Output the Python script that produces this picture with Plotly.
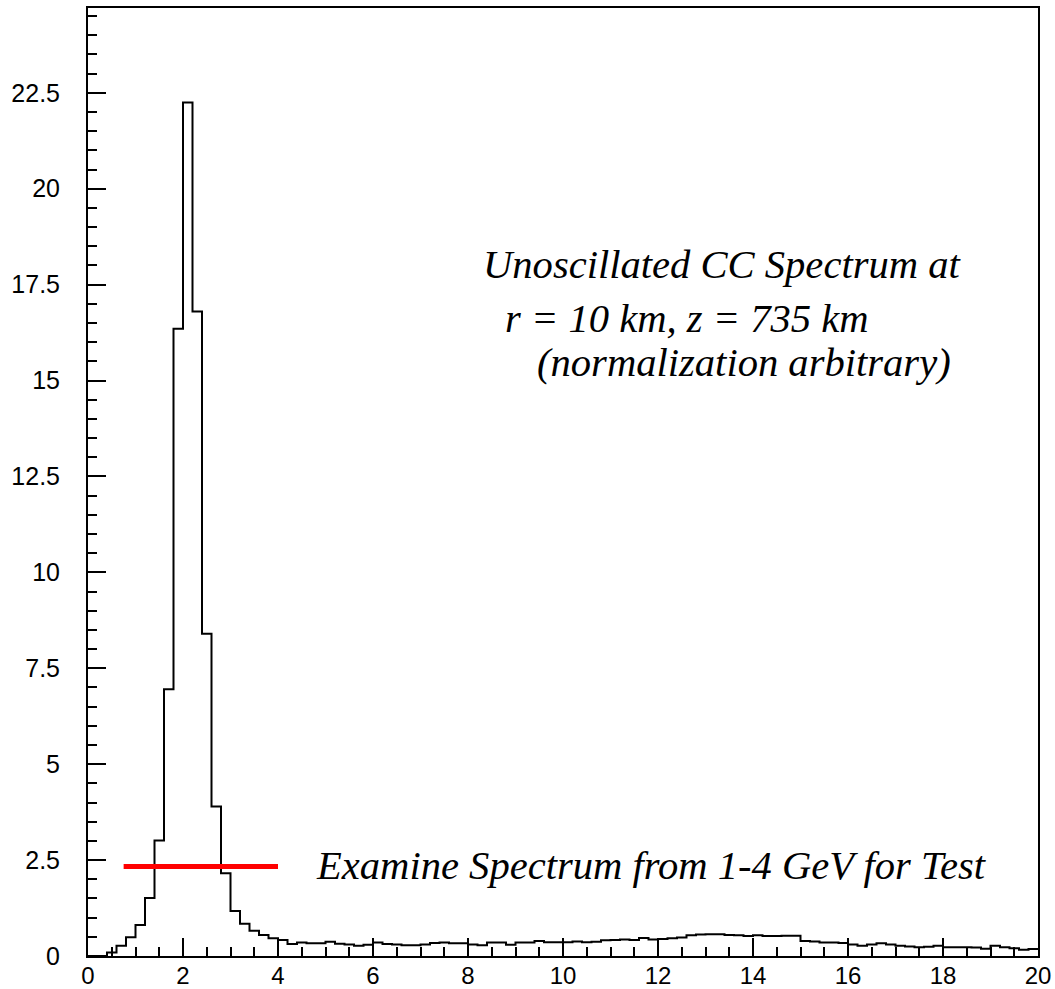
import numpy as np
import plotly.graph_objects as go

# ---- data ----
bin_width = 0.2
bin_edges = [round(i * bin_width, 1) for i in range(101)]  # 0 .. 20 GeV
counts = [
    0.00, 0.00, 0.09, 0.27, 0.49, 0.81, 1.51, 3.01, 6.95, 16.35,
    22.25, 16.80, 8.40, 3.90, 2.16, 1.17, 0.84, 0.66, 0.55, 0.46,
    0.42, 0.31, 0.35, 0.33, 0.33, 0.37, 0.32, 0.30, 0.27, 0.29,
    0.35, 0.31, 0.30, 0.28, 0.28, 0.30, 0.34, 0.35, 0.33, 0.33,
    0.30, 0.28, 0.35, 0.35, 0.29, 0.35, 0.35, 0.39, 0.36, 0.36,
    0.36, 0.38, 0.36, 0.37, 0.41, 0.42, 0.43, 0.42, 0.47, 0.43,
    0.44, 0.46, 0.48, 0.54, 0.56, 0.57, 0.57, 0.55, 0.54, 0.52,
    0.54, 0.52, 0.52, 0.53, 0.53, 0.39, 0.38, 0.35, 0.35, 0.34,
    0.30, 0.27, 0.30, 0.33, 0.30, 0.27, 0.25, 0.23, 0.24, 0.27,
    0.23, 0.23, 0.23, 0.22, 0.19, 0.27, 0.23, 0.20, 0.16, 0.18,
]
test_range_x = [0.75, 4.0]
test_range_y = [2.33, 2.33]
x_ticks = [0, 2, 4, 6, 8, 10, 12, 14, 16, 18, 20]
y_ticks = [0, 2.5, 5, 7.5, 10, 12.5, 15, 17.5, 20, 22.5]
y_tick_text = ["0", "2.5", "5", "7.5", "10", "12.5", "15", "17.5", "20", "22.5"]

# ---- figure ----
W, H = 1055, 989
ml, mr, mt, mb = 88, 17, 8, 33

step_x = list(bin_edges)
step_y = list(counts) + [counts[-1]]

fig = go.Figure()
fig.add_trace(go.Scatter(
    x=step_x, y=step_y, mode="lines",
    line=dict(color="black", width=2, shape="hv"),
    showlegend=False, hoverinfo="skip",
))
fig.add_trace(go.Scatter(
    x=test_range_x, y=test_range_y, mode="lines",
    line=dict(color="#ff0000", width=5),
    showlegend=False, hoverinfo="skip",
))

tick_font_x = dict(family="Liberation Sans, Arial, sans-serif", size=24, color="black")
tick_font_y = dict(family="Liberation Sans, Arial, sans-serif", size=25, color="black")
fig.update_xaxes(
    range=[0, 20], tickmode="array", tickvals=x_ticks,
    ticks="inside", ticklen=18, tickwidth=2, tickcolor="black",
    minor=dict(dtick=0.5, ticks="inside", ticklen=9, tickwidth=2, tickcolor="black"),
    showline=True, linecolor="black", linewidth=2, mirror=True, automargin=False,
    showgrid=False, zeroline=False, tickfont=tick_font_x, ticklabelstandoff=-3,
)
fig.update_yaxes(
    range=[0, 24.71], tickmode="array", tickvals=y_ticks, ticktext=y_tick_text,
    ticks="inside", ticklen=18, tickwidth=2, tickcolor="black",
    minor=dict(dtick=0.5, ticks="inside", ticklen=9, tickwidth=2, tickcolor="black"),
    showline=True, linecolor="black", linewidth=2, mirror=True, automargin=False,
    showgrid=False, zeroline=False, tickfont=tick_font_y, ticklabelstandoff=21,
)

pw, ph = W - ml - mr, H - mt - mb
def px_to_paper(px, py):
    return (px - ml) / pw, (H - mb - py) / ph

text_font = dict(family="Liberation Serif, Times New Roman, serif", size=40.6,
                 color="black", style="italic")
labels = [
    ("Unoscillated CC Spectrum at", 481, 265),
    ("r = 10 km, z = 735 km", 503, 318),
    ("(normalization arbitrary)", 535, 362),
    ("Examine Spectrum from 1-4 GeV for Test", 314, 866),
]
for txt, px, py in labels:
    xp, yp = px_to_paper(px, py)
    fig.add_annotation(text=txt, x=xp, y=yp, xref="paper", yref="paper",
                       xanchor="left", yanchor="middle", showarrow=False,
                       font=text_font)

fig.update_layout(
    width=W, height=H, margin=dict(l=ml, r=mr, t=mt, b=mb),
    paper_bgcolor="white", plot_bgcolor="white",
)
fig.write_html("out.html")
